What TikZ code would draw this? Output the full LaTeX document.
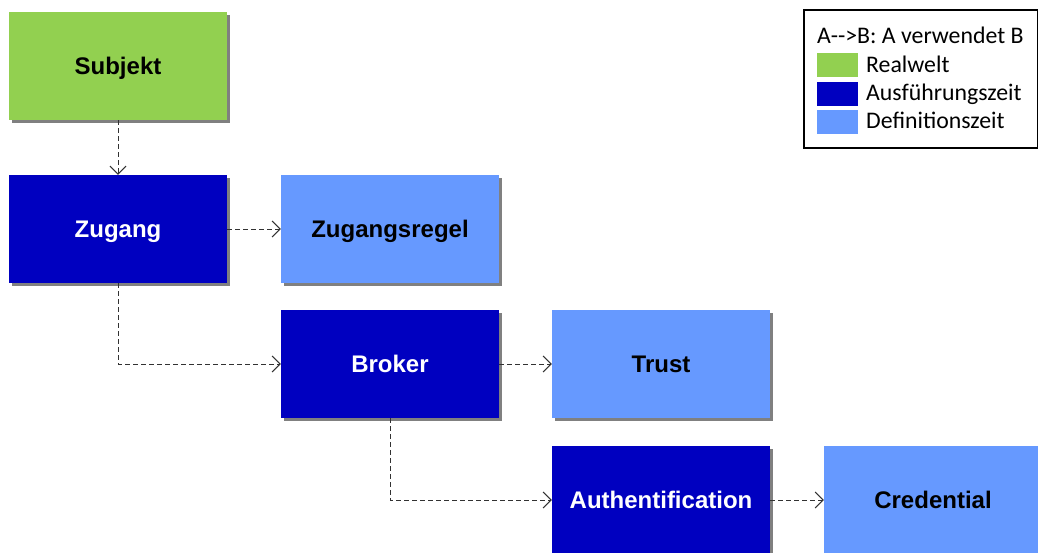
\documentclass[tikz,border=0pt]{standalone}
\usepackage{fontspec}
\setmainfont{Liberation Sans}
\newfontfamily\legendfont{Carlito}
\usetikzlibrary{arrows.meta,shadows}

\definecolor{realwelt}{RGB}{146,208,80}
\definecolor{ausfuehrung}{RGB}{0,0,192}
\definecolor{definition}{RGB}{102,153,255}
\definecolor{shadowgray}{RGB}{128,128,128}
\definecolor{linkgray}{RGB}{50,50,50}

\begin{document}
\begin{tikzpicture}[x=1pt,y=-1pt,
  box/.style={rectangle, minimum width=218pt, minimum height=108pt,
    inner sep=0pt, text height=17pt, text depth=0pt,
    font=\fontsize{24}{28}\selectfont\bfseries,
    drop shadow={shadow xshift=3pt, shadow yshift=-3pt,
      fill=shadowgray, opacity=1}},
  realbox/.style={box, fill=realwelt, text=black},
  runbox/.style={box, fill=ausfuehrung, text=white},
  defbox/.style={box, fill=definition, text=black},
  uses/.style={draw=linkgray, line width=1pt, dash pattern=on 5pt off 3pt,
    -{Straight Barb[length=8pt,width=16pt,line width=1pt]}},
  swatch/.style={rectangle, anchor=north west, minimum width=41pt,
    minimum height=24pt, inner sep=0pt},
  legendtext/.style={anchor=base west, inner sep=0pt,
    font=\legendfont\fontsize{23.8}{28}\selectfont}]

\useasboundingbox (0,0) rectangle (1038,552);

% boxes
\node[realbox] (subjekt)  at (118,66)  {Subjekt};
\node[runbox]  (zugang)   at (118,229) {Zugang};
\node[defbox]  (regel)    at (390,229) {Zugangsregel};
\node[runbox]  (broker)   at (390,364) {Broker};
\node[defbox]  (trust)    at (661,364) {Trust};
\node[runbox]  (authent)  at (661,500) {Authentification};
\node[defbox]  (cred)     at (933,500) {Credential};

% usage relations
\draw[uses] (subjekt.south) -- (zugang.north);
\draw[uses] (zugang.east) -- (regel.west);
\draw[uses] (zugang.south) |- (broker.west);
\draw[uses] (broker.east) -- (trust.west);
\draw[uses] (broker.south) |- (authent.west);
\draw[uses] (authent.east) -- (cred.west);

% legend
\node[draw=black, line width=1.5pt, rectangle, anchor=north west,
  minimum width=234pt, minimum height=138pt, inner sep=0pt] (legend) at (803,9) {};
\node[legendtext] (lhead) at (817,43) {A-\kern0pt-\kern0pt>B: A verwendet B};
\node[swatch, fill=realwelt]    (sw1) at (817,53)  {};
\node[swatch, fill=ausfuehrung] (sw2) at (817,82)  {};
\node[swatch, fill=definition]  (sw3) at (817,110) {};
\node[legendtext] (l1) at (866,72)  {Realwelt};
\node[legendtext] (l2) at (866,100) {Ausführungszeit};
\node[legendtext] (l3) at (866,128) {Definitionszeit};

\end{tikzpicture}
\end{document}
